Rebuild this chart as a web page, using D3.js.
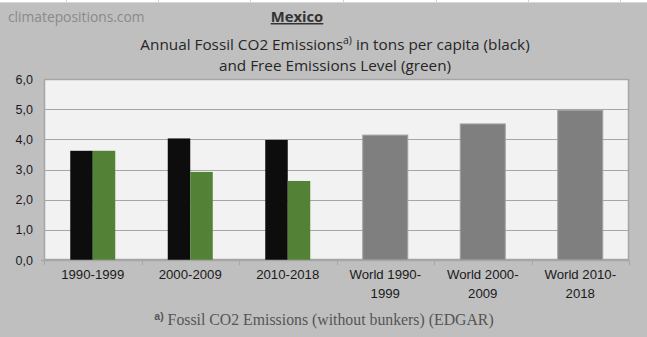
<!DOCTYPE html>
<html><head><meta charset="utf-8">
<script src="https://cdn.jsdelivr.net/npm/d3@7/dist/d3.min.js"></script>
<style>body{margin:0;background:#bfbfbf;}svg{display:block;}</style>
</head><body>
<svg id="c" width="647" height="337"></svg>
<script>
const categories = ["1990-1999","2000-2009","2010-2018","World 1990-1999","World 2000-2009","World 2010-2018"];
const categoryLines = [["1990-1999"],["2000-2009"],["2010-2018"],["World 1990-","1999"],["World 2000-","2009"],["World 2010-","2018"]];
const emissions = [3.62, 4.03, 3.98];
const freeLevel = [3.62, 2.92, 2.62];
const world = [4.14, 4.51, 4.96];
const yTicks = [0,1,2,3,4,5,6];

const svg = d3.select("#c");
const W = 647, H = 337;
svg.append("rect").attr("width",W).attr("height",H).attr("fill","#bfbfbf");
// spreadsheet strip at top
svg.append("rect").attr("x",0).attr("y",0).attr("width",W).attr("height",2).attr("fill","#ffffff");
svg.append("line").attr("x1",0).attr("x2",W).attr("y1",2.5).attr("y2",2.5).attr("stroke","#d9d9d9");
[66,158,250,343,436,528,620].forEach(x=>svg.append("line").attr("x1",x+0.5).attr("x2",x+0.5).attr("y1",0).attr("y2",2).attr("stroke","#d0d0d0"));

const L=44, R=629, T=79, B=260;
const x = d3.scaleBand().domain(categories).range([L,R]).paddingInner(0).paddingOuter(0);
const y = d3.scaleLinear().domain([0,6]).range([B,T]);

svg.append("rect").attr("x",L).attr("y",T).attr("width",R-L).attr("height",B-T).attr("fill","#f2f2f2");
// gridlines
svg.append("g").selectAll("line").data(yTicks.filter(d=>d>0)).join("line")
  .attr("x1",L).attr("x2",R).attr("y1",d=>Math.round(y(d))+0.5).attr("y2",d=>Math.round(y(d))+0.5)
  .attr("stroke","#a6a6a6").attr("stroke-width",1);
// plot border
svg.append("rect").attr("x",L+0.5).attr("y",T+0.5).attr("width",R-L-1).attr("height",B-T-1)
  .attr("fill","none").attr("stroke","#a6a6a6").attr("stroke-width",1.5);

const groupW = 45;
const mexCats = categories.slice(0,3);
const sub = d3.scaleBand().domain(["e","f"]).range([0,groupW]);
const g = svg.append("g");
mexCats.forEach((c,i)=>{
  const x0 = x(c) + (x.bandwidth()-groupW)/2;
  g.append("rect").attr("x",x0+sub("e")).attr("y",y(emissions[i])).attr("width",sub.bandwidth()).attr("height",y(0)-y(emissions[i])).attr("fill","#0d0d0d");
  g.append("rect").attr("x",x0+sub("f")).attr("y",y(freeLevel[i])).attr("width",sub.bandwidth()).attr("height",y(0)-y(freeLevel[i])).attr("fill","#538135");
});
categories.slice(3).forEach((c,i)=>{
  const x0 = x(c) + (x.bandwidth()-groupW)/2;
  g.append("rect").attr("x",x0).attr("y",y(world[i])).attr("width",groupW).attr("height",y(0)-y(world[i]))
   .attr("fill","#7f7f7f").attr("stroke","#a0a0a0").attr("stroke-width",1);
});

// x axis
const xAxis = svg.append("g").attr("transform",`translate(0,${B})`);
xAxis.append("line").attr("x1",L-3).attr("x2",R).attr("y1",0.5).attr("y2",0.5).attr("stroke","#a6a6a6").attr("stroke-width",1.5);
d3.range(categories.length+1).forEach(i=>{
  const xx = L + i*x.bandwidth();
  xAxis.append("line").attr("x1",Math.round(xx)+0.5).attr("x2",Math.round(xx)+0.5).attr("y1",0).attr("y2",5).attr("stroke","#a6a6a6");
});
categories.forEach((c,i)=>{
  const t = xAxis.append("text").attr("x",x(c)+x.bandwidth()/2).attr("y",18.5).attr("text-anchor","middle")
    .attr("font-family","Liberation Sans, Arial, sans-serif").attr("font-size",13.2).attr("fill","#1a1a1a");
  categoryLines[i].forEach((ln,j)=>t.append("tspan").attr("x",x(c)+x.bandwidth()/2).attr("dy",j===0?0:19).text(ln));
});
// y axis labels
const yAxis = d3.axisLeft(y).tickValues(yTicks).tickSize(0).tickPadding(11).tickFormat(d=>d3.format(".1f")(d).replace(".",","));
const ya = svg.append("g").attr("transform",`translate(${L},0)`).call(yAxis);
ya.select(".domain").remove();
ya.selectAll("text").attr("font-family","Liberation Sans, Arial, sans-serif").attr("font-size",12.5).attr("fill","#1a1a1a");

// texts
svg.append("text").attr("x",8).attr("y",22).attr("font-family","Open Sans, sans-serif").attr("font-size",13.8)
  .attr("fill","#8a8a8a").text("climatepositions.com");
svg.append("text").attr("x",297).attr("y",22).attr("text-anchor","middle").attr("font-family","Open Sans, sans-serif")
  .attr("font-size",14.8).attr("font-weight","bold").attr("fill","#333").attr("text-decoration","underline").text("Mexico");
const t1 = svg.append("text").attr("x",335).attr("y",50).attr("text-anchor","middle").attr("font-family","Open Sans, sans-serif")
  .attr("font-size",15.3).attr("fill","#262626");
t1.append("tspan").text("Annual Fossil CO2 Emissions");
t1.append("tspan").attr("font-size",10.5).attr("dy",-6).text("a)");
t1.append("tspan").attr("dy",6).text(" in tons per capita (black)");
svg.append("text").attr("x",335).attr("y",71).attr("text-anchor","middle").attr("font-family","Open Sans, sans-serif")
  .attr("font-size",15.3).attr("fill","#262626").text("and Free Emissions Level (green)");
const fn = svg.append("text").attr("x",324).attr("y",325).attr("text-anchor","middle").attr("font-family","Liberation Serif, Times New Roman, serif")
  .attr("font-size",15.8).attr("fill","#555");
fn.append("tspan").attr("font-size",10.5).attr("font-weight","bold").attr("font-family","Liberation Sans, Arial, sans-serif").attr("dy",-5).text("a)");
fn.append("tspan").attr("dy",5).text(" Fossil CO2 Emissions (without bunkers) (EDGAR)");
</script>
</body></html>
